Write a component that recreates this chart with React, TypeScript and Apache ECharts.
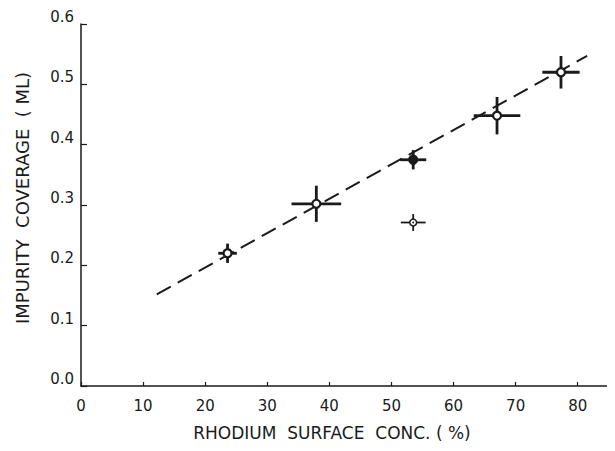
import React, { useEffect, useRef } from "react";
import * as echarts from "echarts";

// Data
const xVals = [23.6, 37.9, 53.5, 53.5, 67.0, 77.3];
const yVals = [0.22, 0.302, 0.375, 0.271, 0.448, 0.52];
const xErr = [1.5, 4.0, 2.1, 2.0, 3.75, 3.0];
const yErr = [0.016, 0.03, 0.016, 0.014, 0.031, 0.027];
// 0 = open circle, 1 = filled circle, 2 = small open circle with a dot
const markerKinds = [0, 0, 1, 2, 0, 0];
const fitX = [12.2, 81.5];
const fitY = [0.152, 0.547];
const xTicks = [0, 10, 20, 30, 40, 50, 60, 70, 80];
const yTicks = [0, 0.1, 0.2, 0.3, 0.4, 0.5, 0.6];

const FONT = "DejaVu Sans";
const INK = "#1a1a1a";

export default function App() {
  const ref = useRef<HTMLDivElement>(null);
  useEffect(() => {
    if (!ref.current) return;
    const chart = echarts.init(ref.current, null, { renderer: "svg" });
    const pts = xVals.map((x, i) => [x, yVals[i], xErr[i], yErr[i], markerKinds[i]]);
    chart.setOption({
      animation: false,
      backgroundColor: "#fff",
      grid: { left: 81, right: 0, top: 24, bottom: 65, containLabel: false },
      xAxis: {
        type: "value",
        min: 0,
        max: 86,
        interval: 10,
        axisLine: { show: true, lineStyle: { color: INK, width: 1.5 } },
        axisTick: { show: true, inside: true, length: 4, lineStyle: { color: INK, width: 1.2 } },
        splitLine: { show: false },
        axisLabel: {
          show: true,
          showMaxLabel: false,
          margin: 12,
          color: INK,
          fontFamily: FONT,
          fontSize: 15,
          formatter: (v: number) => (xTicks.includes(v) ? String(v) : ""),
        },
      },
      yAxis: {
        type: "value",
        min: 0,
        max: 0.6,
        interval: 0.1,
        axisLine: { show: true, lineStyle: { color: INK, width: 1.5 } },
        axisTick: { show: true, inside: true, length: 6, lineStyle: { color: INK, width: 1.2 } },
        splitLine: { show: false },
        axisLabel: {
          show: true,
          margin: 7,
          color: INK,
          fontFamily: FONT,
          fontSize: 15,
          verticalAlign: "bottom",
          lineHeight: 14,
          formatter: (v: number) => {
            const t = yTicks.find((y) => Math.abs(y - v) < 1e-6);
            return t === undefined ? "" : t.toFixed(1);
          },
        },
      },
      graphic: [
        {
          type: "text",
          x: 22,
          y: 198,
          rotation: Math.PI / 2,
          style: {
            text: "IMPURITY  COVERAGE  ( ML)",
            fill: INK,
            font: `18px '${FONT}'`,
            align: "center",
            verticalAlign: "middle",
          },
        },
        {
          type: "text",
          x: 332,
          y: 433,
          style: {
            text: "RHODIUM  SURFACE  CONC. ( %)",
            fill: INK,
            font: `17px '${FONT}'`,
            align: "center",
            verticalAlign: "middle",
          },
        },
      ],
      series: [
        {
          type: "line",
          data: fitX.map((x, i) => [x, fitY[i]]),
          symbol: "none",
          lineStyle: { color: INK, width: 2, type: [16, 8] },
          z: 1,
        },
        {
          type: "custom",
          data: pts,
          encode: { x: 0, y: 1 },
          clip: false,
          z: 3,
          renderItem: (params: any, api: any) => {
            const x = api.value(0);
            const y = api.value(1);
            const ex = api.value(2);
            const ey = api.value(3);
            const kind = api.value(4);
            const c = api.coord([x, y]);
            const l = api.coord([x - ex, y]);
            const r = api.coord([x + ex, y]);
            const t = api.coord([x, y + ey]);
            const b = api.coord([x, y - ey]);
            const barStyle = { stroke: INK, lineWidth: kind === 2 ? 1.8 : 2.8 };
            const children: any[] = [
              { type: "line", shape: { x1: l[0], y1: l[1], x2: r[0], y2: r[1] }, style: barStyle },
              { type: "line", shape: { x1: t[0], y1: t[1], x2: b[0], y2: b[1] }, style: barStyle },
              {
                type: "circle",
                shape: { cx: c[0], cy: c[1], r: kind === 2 ? 3.4 : 4 },
                style: {
                  fill: kind === 1 ? INK : "#fff",
                  stroke: INK,
                  lineWidth: kind === 2 ? 1.5 : 2.2,
                },
              },
            ];
            if (kind === 2) {
              children.push({
                type: "circle",
                shape: { cx: c[0], cy: c[1], r: 0.9 },
                style: { fill: INK },
              });
            }
            return { type: "group", children };
          },
        },
      ],
    });
    return () => chart.dispose();
  }, []);
  return <div ref={ref} style={{ width: 615, height: 451, margin: -8 }} />;
}
